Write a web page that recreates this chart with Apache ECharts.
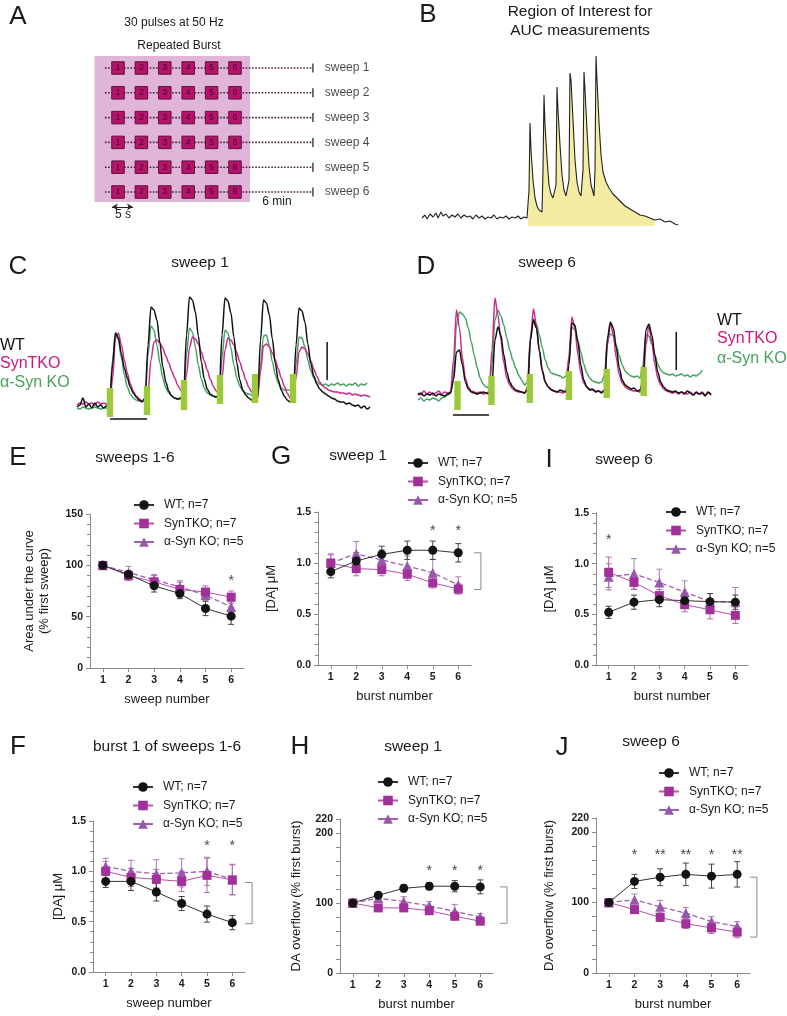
<!DOCTYPE html>
<html>
<head>
<meta charset="utf-8">
<script src="https://cdn.jsdelivr.net/npm/echarts@6/dist/echarts.min.js"></script>
<style>
html,body{margin:0;padding:0;background:#fff;}
#fig{width:787px;height:1016px;}
</style>
</head>
<body>
<div id="fig"></div>
<script>
// ---------- A: protocol ----------
var bursts = [1, 2, 3, 4, 5, 6];
var sweeps = [1, 2, 3, 4, 5, 6];

// ---------- B: example trace [sample, signal] ----------
var traceB = [[0,12],[3,15],[5,11],[8,16],[11,13],[14,17],[16,12],[19,18],[21,14],[24,16],[27,12],[30,15],[33,13],[36,16],[39,12],[42,15],[45,13],[48,14],[51,11],[54,15],[57,12],[60,14],[63,11],[66,13],[69,12],[72,15],[75,11],[78,13],[81,12],[84,14],[87,11],[90,13],[93,12],[96,14],[99,11],[102,13],[105,12],
  [106,14],[107,40],[108,107],[109,80],[111,50],[113,32],[115,24],[117,20],[119,22],[120,18],[121,60],[122,135],[123,105],[125,72],[127,45],[129,36],[131,32],[133,30],[134,45],[135,143],[136,120],[138,85],[140,55],[142,40],[144,34],[146,32],[147,50],[148,157],[149,150],[151,110],[153,70],[155,48],[157,38],[159,34],[160,32],[161,60],[162,158],[163,140],[165,100],[167,64],[169,45],[171,38],[172,34],[173,60],[174,174],[175,150],[177,108],[179,75],[181,58],[184,48],[187,42],[191,36],[195,32],[199,28],[203,24],[208,21],[213,18],[218,15],[223,14],[228,12],[233,10],[238,11],[243,8],[248,9],[253,6],[256,5]];
var roiStart = 106, roiEnd = 233;

// ---------- C / D: traces sampled every 0.4 s ----------
var DT = 0.4;
var wtS1 = [13,15,22,13,16,12,17,13,15,12,14,
  18,55,87,82,66,52,42,33,27,23,20,18,
  22,75,113,110,100,77,53,38,29,24,22,21,22,
  24,85,123,120,108,84,58,41,31,26,24,23,
  25,85,122,119,107,83,57,40,30,25,22,20,19,
  21,80,120,117,105,81,56,40,30,24,20,18,
  20,75,112,109,98,76,56,44,36,31,28,26,24,22,21,19,18,18,16,17,15,14,15,12,14,11,13];
var tkoS1 = [15,17,16,18,16,17,15,18,16,17,16,
  17,40,82,87,75,60,47,36,29,24,21,19,
  20,28,60,78,80,77,72,64,57,49,42,35,30,
  27,45,72,83,81,76,68,59,50,41,34,29,
  26,42,70,82,80,75,67,58,49,40,33,28,24,
  22,48,74,76,73,67,60,51,42,34,27,22,
  21,42,68,73,71,66,59,51,44,38,34,32,30,29,28,28,27,27,26,27,25,26,25,24,25,24,23];
var asynS1 = [12,11,13,12,11,12,13,12,11,12,12,
  15,60,87,80,62,45,33,26,22,20,19,19,
  22,65,94,90,75,57,42,32,27,24,22,21,21,
  23,65,92,88,73,55,41,32,27,25,24,23,
  24,62,90,87,72,55,42,34,29,27,26,25,25,
  26,55,84,85,74,58,45,37,32,30,30,30,
  31,55,83,82,73,60,49,42,38,36,35,36,34,36,35,37,35,36,34,36,35,37,34,36,35,37];
var stimS1 = [[4.46,3,32],[9.46,5,34],[14.46,10,40],[19.32,16,45],[24.05,17,46],[29.19,17,46]];
var scaleS1 = {v: [[33.8,40],[33.8,78]], h: [[4.46,1],[9.46,1]]};

var wtS6 = [25,27,24,26,25,27,24,26,25,24,26,27,
  40,68,70,55,38,31,28,27,26,27,28,27,26,
  35,80,93,85,65,48,38,33,30,29,28,27,30,
  80,100,92,70,50,38,33,30,29,28,30,29,28,
  55,97,95,78,55,40,33,30,31,28,29,27,30,
  82,98,92,72,52,40,35,33,31,32,29,30,40,
  90,96,85,65,48,38,33,30,29,28,29,27,28,26,29,27,25,28,26,27,24,28,25];
var tkoS6 = [27,25,29,26,28,25,27,29,26,28,27,28,
  60,110,92,62,42,33,29,28,27,28,26,27,28,
  70,122,105,80,57,42,35,31,29,28,28,27,33,
  80,111,95,68,48,38,33,31,29,28,28,27,29,
  65,103,92,66,47,37,33,31,30,29,29,28,30,
  75,97,85,62,45,37,33,31,30,29,29,28,31,
  75,94,78,56,42,35,31,29,28,27,28,26,28,27,26,28,25,27,26,28,25,27,26];
var asynS6 = [20,22,19,21,20,22,21,19,22,23,25,27,
  45,95,108,106,102,92,78,65,52,42,36,33,32,
  55,100,110,104,95,82,70,60,52,45,40,35,38,
  85,101,96,85,72,60,52,47,46,45,44,42,44,
  60,93,90,80,68,56,47,42,39,38,37,38,45,
  80,86,84,75,64,55,49,46,44,43,44,42,55,
  85,84,76,65,56,50,47,46,45,46,44,45,46,44,45,43,45,44,46,50];
var stimS6 = [[5.34,10,39],[9.93,15,44],[15.1,17,46],[20.4,20,49],[25.5,22,51],[30.5,24,53]];
var scaleS6 = {v: [[34.9,50],[34.9,88]], h: [[4.73,5],[9.59,5]]};

// ---------- E..J: mean and SEM ----------
var sweepNums = [1, 2, 3, 4, 5, 6];
var burstNums = [1, 2, 3, 4, 5, 6];

var aucWT = [100, 91, 80, 72.5, 58, 50.5],   aucWTErr = [1, 3, 6, 5, 7, 8];
var aucTKO = [100, 90, 84, 76.5, 74, 69],    aucTKOErr = [1, 5, 6, 7, 6, 6];
var aucAS = [100, 93, 86, 79, 71, 59.5],     aucASErr = [1, 6, 5, 6, 5, 5];
var aucStars = [[6, 88.5, '*']];

var b1WT = [0.90, 0.90, 0.795, 0.68, 0.575, 0.49], b1WTErr = [0.06, 0.09, 0.09, 0.07, 0.08, 0.07];
var b1TKO = [1.00, 0.94, 0.92, 0.90, 0.96, 0.915],  b1TKOErr = [0.10, 0.09, 0.10, 0.10, 0.17, 0.15];
var b1AS = [1.05, 1.00, 0.975, 0.985, 1.00, 0.92],  b1ASErr = [0.08, 0.11, 0.14, 0.14, 0.14, 0.15];
var b1Stars = [[5, 1.29, '*'], [6, 1.29, '*']];
var b1Bracket = [[6.5, 0.89], [6.78, 0.89], [6.78, 0.48], [6.5, 0.48]];

var s1WT = [0.915, 1.02, 1.085, 1.125, 1.125, 1.10], s1WTErr = [0.06, 0.08, 0.08, 0.09, 0.09, 0.09];
var s1TKO = [1.00, 0.945, 0.935, 0.89, 0.805, 0.745], s1TKOErr = [0.08, 0.07, 0.06, 0.06, 0.05, 0.05];
var s1AS = [1.00, 1.09, 1.03, 0.97, 0.905, 0.785],    s1ASErr = [0.09, 0.12, 0.10, 0.10, 0.13, 0.08];
var s1Stars = [[5, 1.35, '*'], [6, 1.35, '*']];
var s1Bracket = [[6.62, 1.10], [6.89, 1.10], [6.89, 0.74], [6.62, 0.74]];

var s6WT = [0.52, 0.62, 0.645, 0.635, 0.625, 0.62], s6WTErr = [0.06, 0.07, 0.07, 0.07, 0.08, 0.07];
var s6TKO = [0.915, 0.815, 0.685, 0.595, 0.545, 0.49], s6TKOErr = [0.15, 0.07, 0.06, 0.07, 0.09, 0.08];
var s6AS = [0.87, 0.90, 0.815, 0.72, 0.625, 0.625],    s6ASErr = [0.13, 0.15, 0.13, 0.11, 0.08, 0.14];
var s6Stars = [[1, 1.27, '*']];

var ov1WT = [100, 111, 121, 124, 124, 123], ov1WTErr = [2, 3, 5, 5, 8, 10];
var ov1TKO = [100, 93, 93, 89, 81, 74],     ov1TKOErr = [2, 3, 5, 5, 4, 4];
var ov1AS = [100, 107, 102, 96, 88, 80],    ov1ASErr = [2, 4, 7, 6, 10, 5];
var ov1Stars = [[4, 151, '*'], [5, 151, '*'], [6, 151, '*']];
var ov1Bracket = [[6.77, 123], [7.05, 123], [7.05, 71], [6.77, 71]];

var ov6WT = [100, 130, 136, 140, 137.5, 140], ov6WTErr = [2, 10, 12, 16, 17, 18];
var ov6TKO = [100, 90, 79, 70, 64, 58],        ov6TKOErr = [3, 4, 6, 7, 8, 8];
var ov6AS = [100, 104, 94, 85, 73, 66],         ov6ASErr = [3, 8, 9, 8, 7, 7];
var ov6Stars = [[2, 173, '*'], [3, 173, '**'], [4, 173, '**'], [5, 173, '*'], [6, 173, '**']];
var ov6Bracket = [[6.5, 136], [6.77, 136], [6.77, 51], [6.5, 51]];

var NAME_WT = 'WT; n=7', NAME_TKO = 'SynTKO; n=7', NAME_AS = 'α-Syn KO; n=5';

// ---------- styling ----------
var FONT = '"Liberation Sans", Arial, sans-serif';
var INK = '#1a1a1a';
var AXIS = '#8a8a8a';
var C_WT = '#141414', C_TKO = '#a2309a', C_TKO_LINE = '#b552ab', C_AS = '#9758ab', C_AS_LINE = '#9c62b0';
var TR_WT = '#111111', TR_TKO = '#cc2a8c', TR_AS = '#47a262', STIM = '#9cc83c';

var grids = [], xAxes = [], yAxes = [], series = [], legends = [], graphics = [];

function addGrid(g, xa, ya) {
    grids.push(g);
    var k = grids.length - 1;
    xa.gridIndex = k;
    ya.gridIndex = k;
    xAxes.push(xa);
    yAxes.push(ya);
    return k;
}
function txt(str, x, y, size, color, align) {
    graphics.push({type: 'text', x: x, y: y, silent: true,
        style: {text: str, fontSize: size, fontFamily: FONT, fill: color || INK,
            align: align || 'center', verticalAlign: 'middle'}});
}

// ---------- panel A ----------
var kA = addGrid({left: 94.6, top: 43.2, width: 234, height: 173.6},
    {type: 'value', min: 0, max: 10, show: false},
    {type: 'value', min: 0, max: 7, inverse: true, show: false});
series.push({type: 'scatter', xAxisIndex: kA, yAxisIndex: kA, data: [[0, 0]], symbolSize: 0, z: 0, silent: true,
    markArea: {silent: true, itemStyle: {color: '#e0b5d8'}, data: [[{coord: [-0.03, 0.52]}, {coord: [6.64, 6.4]}]]}});
sweeps.forEach(function (s) {
    series.push({type: 'line', xAxisIndex: kA, yAxisIndex: kA, data: [[0.44, s], [9.33, s]], symbol: 'none', silent: true, z: 2,
        lineStyle: {type: 'dotted', color: '#4b1f35', width: 1.6}});
});
var squares = [];
sweeps.forEach(function (s) { bursts.forEach(function (b) { squares.push([b, s]); }); });
series.push({type: 'scatter', xAxisIndex: kA, yAxisIndex: kA, data: squares, symbol: 'rect', symbolSize: 12.5, z: 3, silent: true,
    itemStyle: {color: '#b8136c', borderColor: '#5a1436', borderWidth: 1, opacity: 1},
    label: {show: true, position: 'inside', formatter: function (p) { return p.value[0]; }, fontSize: 9, color: '#3d0a24', fontFamily: FONT},
    markLine: {silent: true, symbol: ['arrow', 'arrow'], symbolSize: [5, 6], label: {show: false},
        lineStyle: {color: '#222', type: 'solid', width: 1}, data: [[{coord: [0.74, 6.6]}, {coord: [1.64, 6.6]}]]}});
series.push({type: 'scatter', xAxisIndex: kA, yAxisIndex: kA, data: sweeps.map(function (s) { return [9.33, s]; }),
    symbol: 'rect', symbolSize: [1.6, 9], itemStyle: {color: '#222'}, z: 3, silent: true,
    label: {show: true, position: 'right', distance: 11, fontSize: 12, color: INK, fontFamily: FONT,
        formatter: function (p) { return 'sweep ' + p.value[1]; }}});
txt('A', 18, 17, 26);
txt('30 pulses at 50 Hz', 174, 23, 12);
txt('Repeated Burst', 179, 46, 12);
txt('6 min', 277, 202, 12);
txt('5 s', 123, 215, 12);

// ---------- panel B ----------
var kB = addGrid({left: 422, top: 46, width: 256, height: 180},
    {type: 'value', min: 0, max: 256, show: false},
    {type: 'value', min: 4, max: 184, show: false});
series.push({type: 'line', xAxisIndex: kB, yAxisIndex: kB, symbol: 'none', silent: true, z: 1,
    data: traceB.filter(function (p) { return p[0] >= roiStart && p[0] <= roiEnd; }),
    lineStyle: {width: 0}, areaStyle: {color: '#f3eca2', opacity: 1, origin: 'start'}});
series.push({type: 'line', xAxisIndex: kB, yAxisIndex: kB, data: traceB, symbol: 'none', silent: true, z: 2,
    lineStyle: {color: '#222', width: 1.1}});
txt('B', 428, 15, 26);
txt('Region of Interest for', 580, 12, 15.5);
txt('AUC measurements', 580, 31, 15.5);

// ---------- panels C, D ----------
function stimRender(params, api) {
    var a = api.coord([api.value(0), api.value(2)]);
    var b = api.coord([api.value(0), api.value(1)]);
    return {type: 'rect', shape: {x: a[0] - 3.2, y: a[1], width: 6.4, height: b[1] - a[1]}, style: {fill: STIM}};
}
function tracePanel(left, wt, tko, as, stim, scale) {
    var k = addGrid({left: left, top: 290, width: 296, height: 130},
        {type: 'value', min: 0, max: 40, show: false},
        {type: 'value', min: 0, max: 130, show: false});
    [[as, TR_AS], [tko, TR_TKO], [wt, TR_WT]].forEach(function (t, j) {
        series.push({type: 'line', xAxisIndex: k, yAxisIndex: k, symbol: 'none', silent: true, clip: false, z: 2 + j,
            smooth: 0.3, smoothMonotone: 'x',
            data: t[0].map(function (v, i) { return [i * DT, v]; }),
            lineStyle: {color: t[1], width: 1.5}});
    });
    series.push({type: 'custom', xAxisIndex: k, yAxisIndex: k, data: stim, renderItem: stimRender, silent: true, z: 6});
    [scale.v, scale.h].forEach(function (d) {
        series.push({type: 'line', xAxisIndex: k, yAxisIndex: k, data: d, symbol: 'none', silent: true, clip: false, z: 6,
            lineStyle: {color: '#111', width: 1.5}});
    });
}
tracePanel(77, wtS1, tkoS1, asynS1, stimS1, scaleS1);
tracePanel(418, wtS6, tkoS6, asynS6, stimS6, scaleS6);
txt('C', 18, 267, 26);
txt('sweep 1', 200, 263, 15.5);
txt('WT', 0, 346, 16, '#111', 'left');
txt('SynTKO', 0, 364, 16, '#c8187f', 'left');
txt('α-Syn KO', 0, 383, 16, '#47a25a', 'left');
txt('D', 426, 267, 26);
txt('sweep 6', 547, 263, 15.5);
txt('WT', 717, 321, 16, '#111', 'left');
txt('SynTKO', 717, 339, 16, '#c8187f', 'left');
txt('α-Syn KO', 717, 359, 16, '#47a25a', 'left');

// ---------- panels E..J ----------
function errRender(color) {
    return function (params, api) {
        var x = api.value(0), y = api.value(1), e = api.value(2);
        var hi = api.coord([x, y + e]), lo = api.coord([x, y - e]);
        var st = {stroke: color, lineWidth: 1};
        return {type: 'group', children: [
            {type: 'line', shape: {x1: hi[0], y1: hi[1], x2: lo[0], y2: lo[1]}, style: st},
            {type: 'line', shape: {x1: hi[0] - 3, y1: hi[1], x2: hi[0] + 3, y2: hi[1]}, style: st},
            {type: 'line', shape: {x1: lo[0] - 3, y1: lo[1], x2: lo[0] + 3, y2: lo[1]}, style: st}
        ]};
    };
}
// bracket item: [anchorX, x1, y1, x2, y2, x3, y3, x4, y4]
function bracketRender(params, api) {
    var pts = [];
    for (var i = 0; i < 4; i++) {
        pts.push(api.coord([api.value(1 + 2 * i), api.value(2 + 2 * i)]));
    }
    return {type: 'polyline', shape: {points: pts}, style: {stroke: AXIS, fill: null, lineWidth: 1}};
}
function statPanel(o) {
    var yAxis = {type: 'value', min: 0, max: o.yMax, interval: o.yInt,
        name: o.yName, nameLocation: 'middle', nameGap: o.yGap,
        nameTextStyle: {fontSize: 13, color: INK, fontFamily: FONT, lineHeight: 15},
        axisLine: {show: true, lineStyle: {color: AXIS}},
        axisTick: {show: true, length: 4, lineStyle: {color: AXIS}},
        minorTick: {show: !!o.minor, splitNumber: 5, length: 3, lineStyle: {color: AXIS}},
        splitLine: {show: false},
        axisLabel: {fontSize: 10.5, fontWeight: 'bold', color: INK, fontFamily: FONT, margin: 7,
            formatter: o.yFmt}};
    if (o.yLabels) yAxis.axisLabel.customValues = o.yLabels;
    var k = addGrid({left: o.left, top: o.top, width: o.width, height: o.height},
        {type: 'value', min: 0.5, max: 6.5, name: o.xName, nameLocation: 'middle', nameGap: 25,
            nameTextStyle: {fontSize: 13, color: INK, fontFamily: FONT},
            axisLine: {show: true, lineStyle: {color: AXIS}},
            axisTick: {show: true, length: 4, customValues: o.x, lineStyle: {color: AXIS}},
            splitLine: {show: false},
            axisLabel: {customValues: o.x, fontSize: 10.5, fontWeight: 'bold', color: INK, fontFamily: FONT, margin: 7}},
        yAxis);
    var groups = [
        [NAME_AS, o.as, o.asE, 'triangle', C_AS, C_AS_LINE, 'dashed', '#a87cbb', 10],
        [NAME_TKO, o.tko, o.tkoE, 'rect', C_TKO, C_TKO_LINE, 'solid', '#b86aae', 9],
        [NAME_WT, o.wt, o.wtE, 'circle', C_WT, '#333333', 'solid', '#444444', 9]
    ];
    groups.forEach(function (g) {
        series.push({type: 'custom', name: 'sem ' + g[0], xAxisIndex: k, yAxisIndex: k, silent: true, z: 2,
            data: o.x.map(function (x, i) { return [x, g[1][i], g[2][i]]; }),
            renderItem: errRender(g[7])});
    });
    groups.forEach(function (g, j) {
        series.push({type: 'line', name: g[0], xAxisIndex: k, yAxisIndex: k, silent: true, z: 3 + j, clip: false,
            data: o.x.map(function (x, i) { return [x, g[1][i]]; }),
            symbol: g[3], symbolSize: g[8], showSymbol: true,
            itemStyle: {color: g[4]},
            lineStyle: {color: g[5], width: g[6] === 'dashed' ? 1.3 : 1, type: g[6]}});
    });
    series.push({type: 'scatter', xAxisIndex: k, yAxisIndex: k, silent: true, symbolSize: 0, z: 7,
        data: o.stars.map(function (s) { return {value: [s[0], s[1]], label: {formatter: s[2]}}; }),
        label: {show: true, position: 'inside', fontSize: 14, color: '#111', fontFamily: FONT, offset: [0, 4]}});
    if (o.bracket) {
        var item = [6];
        o.bracket.forEach(function (p) { item.push(p[0], p[1]); });
        series.push({type: 'custom', xAxisIndex: k, yAxisIndex: k, silent: true, z: 2,
            encode: {x: 0, y: 2}, data: [item], renderItem: bracketRender});
    }
    legends.push({orient: 'vertical', left: o.legLeft, top: o.legTop, padding: 0,
        itemWidth: 20, itemHeight: 12, itemGap: 6.5,
        selectedMode: false, data: [NAME_WT, NAME_TKO, NAME_AS],
        textStyle: {fontSize: 12, color: INK, fontFamily: FONT, padding: [0, 0, 0, 5]}});
    txt(o.letter, o.letterX, o.letterY, 26);
    txt(o.title, o.titleX, o.titleY, 15.5);
}
var fmt1 = function (v) { return v.toFixed(1); };
var fmt0 = function (v) { return String(v); };

statPanel({letter: 'E', letterX: 18, letterY: 458, title: 'sweeps 1-6', titleX: 135, titleY: 458,
    left: 90, top: 514, width: 154, height: 154, yMax: 150, yInt: 50, minor: true, yFmt: fmt0,
    yName: 'Area under the curve\n(% first sweep)', yGap: 38, xName: 'sweep number', x: sweepNums,
    wt: aucWT, wtE: aucWTErr, tko: aucTKO, tkoE: aucTKOErr, as: aucAS, asE: aucASErr,
    stars: aucStars, legLeft: 133, legTop: 499});
statPanel({letter: 'F', letterX: 18, letterY: 747, title: 'burst 1 of sweeps 1-6', titleX: 167, titleY: 747,
    left: 93, top: 821, width: 152, height: 151, yMax: 1.5, yInt: 0.5, minor: true, yFmt: fmt1,
    yName: '[DA] μM', yGap: 27, xName: 'sweep number', x: sweepNums,
    wt: b1WT, wtE: b1WTErr, tko: b1TKO, tkoE: b1TKOErr, as: b1AS, asE: b1ASErr,
    stars: b1Stars, bracket: b1Bracket, legLeft: 132, legTop: 781});
statPanel({letter: 'G', letterX: 281, letterY: 457, title: 'sweep 1', titleX: 358, titleY: 456,
    left: 318, top: 512, width: 153, height: 153, yMax: 1.5, yInt: 0.5, minor: true, yFmt: fmt1,
    yName: '[DA] μM', yGap: 39, xName: 'burst number', x: burstNums,
    wt: s1WT, wtE: s1WTErr, tko: s1TKO, tkoE: s1TKOErr, as: s1AS, asE: s1ASErr,
    stars: s1Stars, bracket: s1Bracket, legLeft: 407, legTop: 457});
statPanel({letter: 'H', letterX: 300, letterY: 747, title: 'sweep 1', titleX: 413, titleY: 747,
    left: 340, top: 819, width: 153, height: 154, yMax: 220, yInt: 20, minor: false, yFmt: fmt0, yLabels: [0, 100, 200, 220],
    yName: 'DA overflow (% first burst)', yGap: 36, xName: 'burst number', x: burstNums,
    wt: ov1WT, wtE: ov1WTErr, tko: ov1TKO, tkoE: ov1TKOErr, as: ov1AS, asE: ov1ASErr,
    stars: ov1Stars, bracket: ov1Bracket, legLeft: 377, legTop: 776});
statPanel({letter: 'I', letterX: 549, letterY: 460, title: 'sweep 6', titleX: 624, titleY: 460,
    left: 596, top: 513, width: 152, height: 152, yMax: 1.5, yInt: 0.5, minor: true, yFmt: fmt1,
    yName: '[DA] μM', yGap: 39, xName: 'burst number', x: burstNums,
    wt: s6WT, wtE: s6WTErr, tko: s6TKO, tkoE: s6TKOErr, as: s6AS, asE: s6ASErr,
    stars: s6Stars, legLeft: 665, legTop: 506});
statPanel({letter: 'J', letterX: 562, letterY: 748, title: 'sweep 6', titleX: 651, titleY: 742,
    left: 596, top: 818, width: 154, height: 155, yMax: 220, yInt: 20, minor: false, yFmt: fmt0, yLabels: [0, 100, 200, 220],
    yName: 'DA overflow (% first burst)', yGap: 39, xName: 'burst number', x: burstNums,
    wt: ov6WT, wtE: ov6WTErr, tko: ov6TKO, tkoE: ov6TKOErr, as: ov6AS, asE: ov6ASErr,
    stars: ov6Stars, bracket: ov6Bracket, legLeft: 658, legTop: 767});

var chart = echarts.init(document.getElementById('fig'), null, {renderer: 'canvas'});
chart.setOption({
    animation: false,
    backgroundColor: '#ffffff',
    textStyle: {fontFamily: FONT},
    grid: grids,
    xAxis: xAxes,
    yAxis: yAxes,
    legend: legends,
    series: series,
    graphic: graphics
});
</script>
</body>
</html>
